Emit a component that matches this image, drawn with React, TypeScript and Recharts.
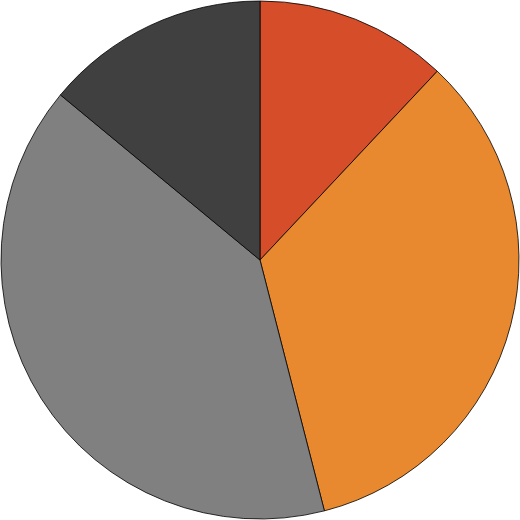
import { PieChart, Pie, Cell } from "recharts"

const names = ["A", "B", "C", "D"]
const values = [12, 34, 40, 14]
const colors = ["#D64D29", "#E8892F", "#808080", "#404040"]

const data = names.map((name, i) => ({ name, value: values[i] }))

export default function App() {
  return (
    <div style={{ position: "absolute", left: 0, top: 0 }}>
      <PieChart width={520} height={520} margin={{ top: 0, right: 0, bottom: 0, left: 0 }}>
        <Pie
          data={data}
          dataKey="value"
          cx={260}
          cy={260}
          outerRadius={259}
          startAngle={90}
          endAngle={-270}
          stroke="#000000"
          strokeWidth={0.8}
          isAnimationActive={false}
        >
          {data.map((d, i) => (
            <Cell key={d.name} fill={colors[i]} />
          ))}
        </Pie>
      </PieChart>
    </div>
  )
}
